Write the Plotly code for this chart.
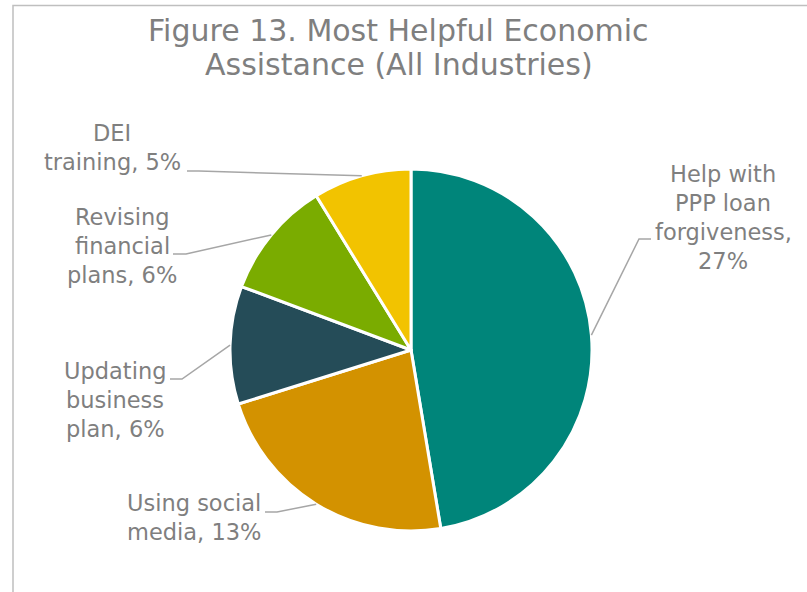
import math
import plotly.graph_objects as go

# ---------------- data ----------------
categories = ["Help with PPP loan forgiveness", "Using social media",
              "Updating business plan", "Revising financial plans", "DEI training"]
values = [27, 13, 6, 6, 5]
colors = ["#00857A", "#D39200", "#254C58", "#7AAC00", "#F2C300"]
label_lines = [
    ["Help with", "PPP loan", "forgiveness,", "{v}%"],
    ["Using social", "media, {v}%"],
    ["Updating", "business", "plan, {v}%"],
    ["Revising", "financial", "plans, {v}%"],
    ["DEI", "training, {v}%"],
]
title_lines = ["Figure 13. Most Helpful Economic", "Assistance (All Industries)"]

# ---------------- layout (pixels in the photographed page) ----------------
W, H = 807, 592
CX, CY, R = 411, 350, 181
FONT = "DejaVu Sans"
TEXT_COLOR = "#7F7F7F"
LINE_COLOR = "#A6A6A6"
LABEL_SIZE = 22.5
TITLE_SIZE = 30
LINE_STEP = 29
# text centre x, first line centre y, elbow end x, elbow y, knee x
label_pos = [
    (723, 174, 651, 239, 639),
    (194, 503, 265, 512, 277),
    (115, 371, 170, 379, 182),
    (122, 217, 173, 254, 186),
    (112, 133, 187, 171, 199),
]


def px(x):
    return x / W


def py(y):
    return 1 - y / H


fig = go.Figure(go.Pie(
    labels=categories,
    values=values,
    sort=False,
    direction="clockwise",
    rotation=0,
    marker=dict(colors=colors, line=dict(color="white", width=3)),
    textinfo="none",
    hoverinfo="label+value",
    showlegend=False,
    domain=dict(x=[px(CX - R), px(CX + R)], y=[py(CY + R), py(CY - R)]),
))

annotations = []
shapes = []

# title
for i, t in enumerate(title_lines):
    annotations.append(dict(text=t, x=px(398.5), y=py(30.5 + i * 34), xref="paper", yref="paper",
                            xanchor="center", yanchor="middle", showarrow=False,
                            font=dict(family=FONT, size=TITLE_SIZE, color=TEXT_COLOR)))

total = sum(values)
cum = 0
for v, lines, pos in zip(values, label_lines, label_pos):
    mid = (cum + v / 2) / total * 2 * math.pi
    cum += v
    ex = CX + R * math.sin(mid)
    ey = CY - R * math.cos(mid)
    tx, ty, lx, ly, kx = pos
    for j, ln in enumerate(lines):
        annotations.append(dict(text=ln.format(v=v), x=px(tx), y=py(ty + j * LINE_STEP),
                                xref="paper", yref="paper", xanchor="center", yanchor="middle",
                                showarrow=False,
                                font=dict(family=FONT, size=LABEL_SIZE, color=TEXT_COLOR)))
    path = f"M {px(lx)} {py(ly)} L {px(kx)} {py(ly)} L {px(ex)} {py(ey)}"
    shapes.append(dict(type="path", path=path, xref="paper", yref="paper",
                       line=dict(color=LINE_COLOR, width=1.5)))

# outer border (continues beyond the right and bottom edges)
shapes.append(dict(type="rect", xref="paper", yref="paper",
                   x0=px(13), y0=py(620), x1=px(830), y1=py(5.5),
                   line=dict(color="#BFBFBF", width=1.5)))

fig.update_layout(width=W, height=H, margin=dict(l=0, r=0, t=0, b=0),
                  paper_bgcolor="white", plot_bgcolor="white",
                  annotations=annotations, shapes=shapes)

fig.write_html("out.html", config={"displayModeBar": False},
               post_script="document.body.style.margin='0';document.body.style.overflow='hidden';")
